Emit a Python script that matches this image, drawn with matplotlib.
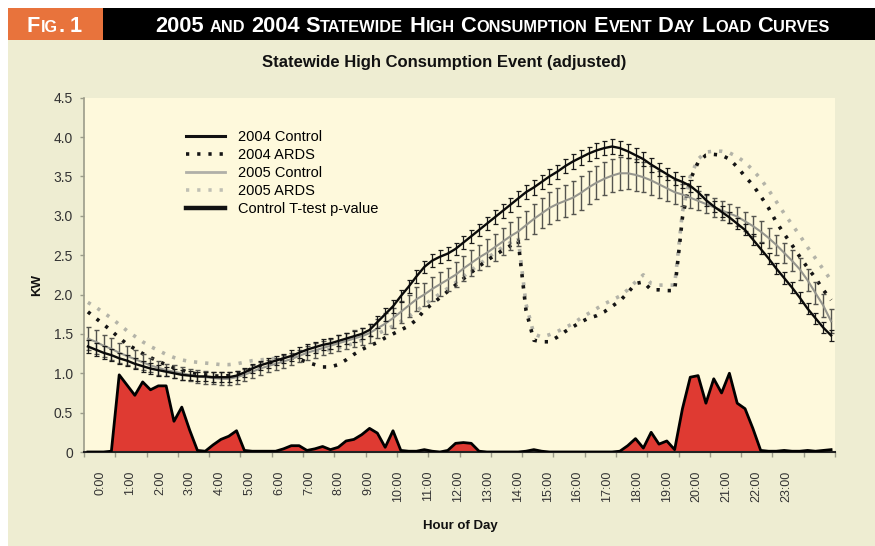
import numpy as np
import matplotlib
matplotlib.use("Agg")
import matplotlib.pyplot as plt
from matplotlib import font_manager as fm
from matplotlib.patches import Rectangle
from matplotlib.lines import Line2D
from matplotlib.ticker import FuncFormatter

# ---------------- data (15-minute intervals) ----------------
hour_labels = ["%d:00" % h for h in range(24)]
series_names = ["2004 Control", "2004 ARDS", "2005 Control", "2005 ARDS", "Control T-test p-value"]

ctrl_2004 = [
    1.34, 1.30, 1.26, 1.23, 1.19, 1.16, 1.12, 1.09, 1.06, 1.04, 1.02, 1.00, 0.98, 0.97, 0.96, 0.96,
    0.95, 0.95, 0.95, 0.97, 1.01, 1.06, 1.10, 1.13, 1.16, 1.19, 1.22, 1.26, 1.30, 1.33, 1.36, 1.38,
    1.41, 1.44, 1.47, 1.50, 1.55, 1.65, 1.75, 1.85, 1.98, 2.10, 2.23, 2.35, 2.43, 2.48, 2.52, 2.58,
    2.66, 2.74, 2.82, 2.90, 2.98, 3.06, 3.14, 3.22, 3.30, 3.36, 3.43, 3.50, 3.56, 3.63, 3.69, 3.74,
    3.79, 3.83, 3.86, 3.88, 3.86, 3.82, 3.77, 3.72, 3.65, 3.59, 3.53, 3.47, 3.43, 3.38, 3.30, 3.20,
    3.12, 3.05, 2.98, 2.90, 2.82, 2.70, 2.58, 2.46, 2.33, 2.21, 2.09, 1.96, 1.82, 1.70, 1.58, 1.48]

ctrl_2005 = [
    1.44, 1.40, 1.35, 1.31, 1.26, 1.22, 1.18, 1.14, 1.10, 1.07, 1.04, 1.02, 1.00, 0.98, 0.96, 0.95,
    0.94, 0.93, 0.93, 0.95, 0.98, 1.02, 1.06, 1.09, 1.12, 1.15, 1.18, 1.22, 1.26, 1.29, 1.32, 1.35,
    1.38, 1.41, 1.44, 1.47, 1.51, 1.57, 1.63, 1.70, 1.78, 1.86, 1.94, 2.00, 2.07, 2.13, 2.19, 2.25,
    2.33, 2.40, 2.47, 2.53, 2.60, 2.67, 2.74, 2.80, 2.88, 2.96, 3.03, 3.10, 3.15, 3.19, 3.23, 3.29,
    3.36, 3.42, 3.47, 3.51, 3.54, 3.54, 3.52, 3.49, 3.45, 3.40, 3.35, 3.30, 3.27, 3.23, 3.19, 3.15,
    3.11, 3.07, 3.03, 2.99, 2.93, 2.87, 2.80, 2.72, 2.63, 2.53, 2.43, 2.32, 2.18, 2.02, 1.86, 1.66]

ards_2004 = [
    1.78, 1.70, 1.62, 1.54, 1.45, 1.37, 1.31, 1.25, 1.20, 1.15, 1.11, 1.07, 1.04, 1.01, 0.99, 0.98,
    0.97, 0.96, 0.97, 0.99, 1.02, 1.06, 1.09, 1.12, 1.15, 1.18, 1.20, 1.18, 1.14, 1.11, 1.08, 1.08,
    1.11, 1.17, 1.24, 1.30, 1.35, 1.39, 1.45, 1.50, 1.55, 1.60, 1.68, 1.80, 1.88, 1.96, 2.04, 2.12,
    2.20, 2.28, 2.36, 2.43, 2.50, 2.56, 2.62, 2.68, 1.80, 1.42, 1.40, 1.40, 1.46, 1.53, 1.59, 1.65,
    1.70, 1.73, 1.78, 1.85, 1.92, 2.02, 2.14, 2.16, 2.06, 2.06, 2.05, 2.05, 2.98, 3.46, 3.68, 3.77,
    3.78, 3.77, 3.72, 3.62, 3.50, 3.39, 3.25, 3.10, 2.92, 2.77, 2.63, 2.48, 2.34, 2.21, 2.06, 1.93]

ards_2005 = [
    1.90, 1.84, 1.77, 1.70, 1.62, 1.54, 1.47, 1.40, 1.34, 1.29, 1.24, 1.20, 1.17, 1.15, 1.14, 1.13,
    1.12, 1.11, 1.11, 1.12, 1.14, 1.16, 1.17, 1.18, 1.19, 1.20, 1.22, 1.24, 1.26, 1.28, 1.29, 1.30,
    1.32, 1.35, 1.38, 1.42, 1.46, 1.50, 1.55, 1.60, 1.66, 1.72, 1.79, 1.87, 1.94, 2.01, 2.08, 2.15,
    2.23, 2.31, 2.38, 2.46, 2.53, 2.60, 2.66, 2.72, 1.88, 1.50, 1.46, 1.49, 1.53, 1.58, 1.63, 1.70,
    1.76, 1.82, 1.88, 1.93, 1.98, 2.06, 2.16, 2.25, 2.14, 2.12, 2.12, 2.12, 3.05, 3.50, 3.72, 3.81,
    3.82, 3.82, 3.80, 3.75, 3.68, 3.58, 3.47, 3.33, 3.18, 3.03, 2.89, 2.75, 2.60, 2.46, 2.32, 2.18]

p_value = [
    0.00, 0.00, 0.00, 0.01, 0.98, 0.85, 0.72, 0.89, 0.79, 0.84, 0.84, 0.39, 0.57, 0.28, 0.02, 0.01,
    0.09, 0.16, 0.20, 0.27, 0.02, 0.01, 0.01, 0.01, 0.01, 0.04, 0.08, 0.08, 0.02, 0.04, 0.07, 0.03,
    0.06, 0.14, 0.16, 0.22, 0.30, 0.24, 0.06, 0.27, 0.02, 0.01, 0.01, 0.03, 0.01, 0.00, 0.02, 0.11,
    0.12, 0.11, 0.01, 0.00, 0.00, 0.00, 0.00, 0.00, 0.01, 0.03, 0.01, 0.00, 0.00, 0.00, 0.00, 0.00,
    0.00, 0.00, 0.00, 0.00, 0.01, 0.08, 0.17, 0.05, 0.25, 0.10, 0.14, 0.03, 0.55, 0.95, 0.97, 0.62,
    0.93, 0.75, 1.00, 0.62, 0.55, 0.30, 0.02, 0.01, 0.01, 0.02, 0.01, 0.01, 0.02, 0.01, 0.02, 0.03]

err_2004 = [
    0.08, 0.08, 0.08, 0.08, 0.07, 0.07, 0.07, 0.07, 0.07, 0.07, 0.06, 0.06, 0.06, 0.06, 0.06, 0.06,
    0.06, 0.06, 0.06, 0.06, 0.06, 0.06, 0.06, 0.06, 0.06, 0.06, 0.07, 0.07, 0.07, 0.07, 0.07, 0.07,
    0.07, 0.07, 0.07, 0.07, 0.08, 0.08, 0.08, 0.08, 0.08, 0.08, 0.08, 0.08, 0.08, 0.08, 0.08, 0.08,
    0.08, 0.08, 0.08, 0.08, 0.09, 0.09, 0.09, 0.09, 0.09, 0.09, 0.09, 0.09, 0.09, 0.09, 0.09, 0.09,
    0.09, 0.09, 0.09, 0.09, 0.09, 0.09, 0.09, 0.09, 0.09, 0.08, 0.08, 0.08, 0.08, 0.08, 0.08, 0.08,
    0.07, 0.07, 0.07, 0.07, 0.07, 0.07, 0.07, 0.07, 0.07, 0.07, 0.07, 0.07, 0.07, 0.07, 0.07, 0.07]

err_2005 = [
    0.15, 0.15, 0.14, 0.14, 0.13, 0.12, 0.11, 0.10, 0.09, 0.09, 0.08, 0.08, 0.08, 0.08, 0.08, 0.08,
    0.08, 0.08, 0.08, 0.08, 0.08, 0.08, 0.08, 0.08, 0.08, 0.08, 0.08, 0.08, 0.09, 0.09, 0.09, 0.09,
    0.10, 0.10, 0.11, 0.11, 0.12, 0.12, 0.13, 0.13, 0.14, 0.14, 0.15, 0.15, 0.15, 0.15, 0.15, 0.16,
    0.16, 0.16, 0.16, 0.17, 0.17, 0.17, 0.18, 0.18, 0.18, 0.19, 0.19, 0.20, 0.20, 0.20, 0.21, 0.21,
    0.21, 0.21, 0.21, 0.21, 0.21, 0.20, 0.20, 0.19, 0.18, 0.17, 0.16, 0.15, 0.14, 0.13, 0.12, 0.12,
    0.12, 0.12, 0.12, 0.12, 0.12, 0.13, 0.13, 0.13, 0.13, 0.13, 0.13, 0.14, 0.14, 0.14, 0.15, 0.15]

# ---------------- fonts ----------------
names = {f.name for f in fm.fontManager.ttflist}
BASE = "Liberation Sans" if "Liberation Sans" in names else "DejaVu Sans"
NARROW = "Liberation Sans Narrow" if "Liberation Sans Narrow" in names else BASE
plt.rcParams["font.family"] = [BASE, "DejaVu Sans"]

# ---------------- figure ----------------
W, H = 875, 546
fig = plt.figure(figsize=(W / 100, H / 100), dpi=100)
fig.patch.set_facecolor("white")


def fx(px):
    return px / W


def fy(py):
    return 1 - py / H


BEIGE = "#EEEDD2"
PLOTBG = "#FEF9DC"
ORANGE = "#E8733C"
RED = "#DF3A32"

for (x0, y0, x1, y1, c) in [(8, 40, 875, 546, BEIGE), (8, 8, 103, 40, ORANGE), (103, 8, 875, 40, "black")]:
    fig.patches.append(Rectangle((fx(x0), fy(y1)), fx(x1) - fx(x0), fy(y0) - fy(y1),
                                 transform=fig.transFigure, facecolor=c, edgecolor="none", zorder=-10))

renderer = fig.canvas.get_renderer()


def small_caps(x_px, base_px, text, big, small, color, family, target_w=None):
    def draw(scale, keep):
        items = []
        x = x_px
        words = text.split(" ")
        for wi, word in enumerate(words):
            runs = []
            for ch in word:
                s = ch.islower()
                if runs and runs[-1][1] == s:
                    runs[-1][0] += ch
                else:
                    runs.append([ch, s])
            for s, sm in runs:
                t = fig.text(fx(x), fy(base_px), s.upper(), fontsize=(small if sm else big) * scale,
                             color=color, family=family, weight="bold", ha="left", va="baseline")
                bb = t.get_window_extent(renderer)
                x += bb.width + 0.5
                items.append(t)
            if wi < len(words) - 1:
                x += 0.24 * big * scale * 100 / 72
        if not keep:
            for t in items:
                t.remove()
        return x - x_px

    if target_w is not None:
        w = draw(1.0, False)
        scale = min(1.0, target_w / w)
        draw(scale, True)
    else:
        draw(1.0, True)


small_caps(27, 32, "Fig. 1", 20, 15, "white", [NARROW, BASE], target_w=55)
small_caps(155, 32, "2005 and 2004 Statewide High Consumption Event Day Load Curves", 20, 15,
           "white", [NARROW, BASE], target_w=676)

fig.text(fx(444), fy(62), "Statewide High Consumption Event (adjusted)", fontsize=12,
         weight="bold", ha="center", va="center", color="#111111")

# ---------------- axes ----------------
ax = fig.add_axes([fx(84), fy(452), fx(835) - fx(84), fy(97.7) - fy(452)])
ax.set_facecolor(PLOTBG)

x = (np.arange(len(ctrl_2004)) + 0.5) / 4.0

ax.fill_between(x, 0, p_value, color=RED, linewidth=0, zorder=1)
ax.plot(x, p_value, color="black", lw=2.0, zorder=6, solid_joinstyle="round")

dot = (0, (0.9, 2.2))
ax.plot(x, ards_2005, color="#B4B4A8", lw=2.6, linestyle=dot, zorder=2)
ax.plot(x, ards_2004, color="#151515", lw=2.6, linestyle=dot, zorder=3)

ax.errorbar(x, ctrl_2005, yerr=err_2005, color="#96968E", lw=1.5, elinewidth=1.0, ecolor="#55554F",
            capsize=1.8, capthick=1.0, zorder=4)
ax.errorbar(x, ctrl_2004, yerr=err_2004, color="#0A0A0A", lw=1.7, elinewidth=0.9, ecolor="#1A1A1A",
            capsize=1.8, capthick=0.9, zorder=5)

ax.set_xlim(0, 24)
ax.set_ylim(0, 4.5)
ax.set_yticks(np.arange(0, 4.51, 0.5))
ax.yaxis.set_major_formatter(FuncFormatter(lambda v, p: "0" if v == 0 else "%.1f" % v))

ax.set_xticks(np.arange(0, 25, 1))
ax.set_xticklabels([])
label_pos = 0.52 + 0.953 * np.arange(len(hour_labels))
ax.set_xticks(label_pos, minor=True)
ax.set_xticklabels(hour_labels, minor=True, rotation=90, fontsize=9, color="#333333", va="top")
ax.tick_params(axis="x", which="minor", length=0, pad=13.5)
ax.tick_params(axis="x", which="major", length=3.8, width=1.0, color="#9C9C8A", direction="out")
ax.tick_params(axis="y", length=3, width=1.0, color="#9C9C8A", direction="out", pad=5,
               labelsize=10, labelcolor="#333333")

for s in ("top", "right"):
    ax.spines[s].set_visible(False)
ax.spines["left"].set_color("#9C9C8A")
ax.spines["left"].set_linewidth(1.2)
ax.spines["bottom"].set_color("#222222")
ax.spines["bottom"].set_linewidth(1.5)

fig.text(fx(37), fy(285), "KW", rotation=90, fontsize=9.5, weight="bold", ha="center", va="center",
         color="#111111")
fig.text(fx(460), fy(526), "Hour of Day", fontsize=9.5, weight="bold", ha="center", va="center",
         color="#111111")

# ---------------- legend ----------------
handles = [
    Line2D([], [], color="#111111", lw=2.2),
    Line2D([], [], color="#151515", lw=2.6, linestyle=dot),
    Line2D([], [], color="#B0B0A8", lw=2.0),
    Line2D([], [], color="#C0C0B4", lw=2.6, linestyle=dot),
    Line2D([], [], color="#111111", lw=3.2),
]
leg = ax.legend(handles, series_names, loc="upper left", bbox_to_anchor=(fx(186), fy(130)),
                bbox_transform=fig.transFigure,
                frameon=False, fontsize=10.5, handlelength=2.7, handletextpad=0.9,
                labelspacing=0.28, borderpad=0, borderaxespad=0)
leg.set_zorder(10)

fig.savefig("out.png", dpi=100, facecolor=fig.get_facecolor())
